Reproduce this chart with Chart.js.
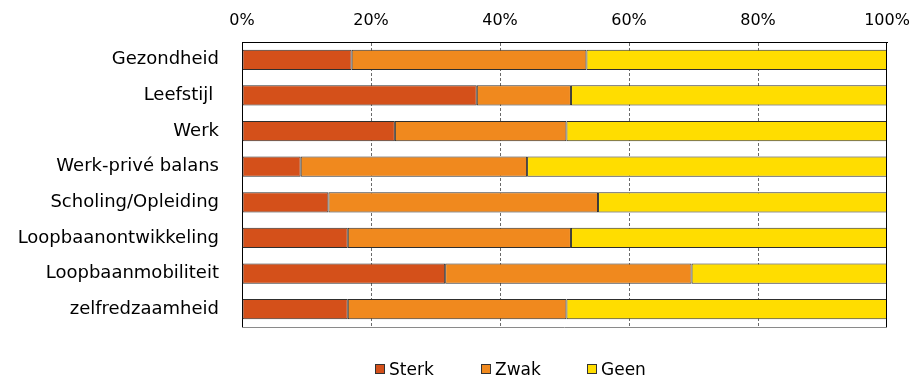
<!DOCTYPE html>
<html lang="nl">
<head>
<meta charset="utf-8">
<title>Aandacht per thema</title>
<script src="https://cdn.jsdelivr.net/npm/chart.js@4"></script>
<style>
  body { margin: 0; background: #fff; }
  #wrap { position: relative; width: 912px; height: 379px; }
  #legend {
    position: absolute; left: 375px; top: 359px; height: 20px;
    display: flex; font: 17px "DejaVu Sans", Verdana, sans-serif; color: #000;
  }
  .legend-item { width: 106px; display: flex; align-items: center; white-space: nowrap; }
  .legend-box { width: 8px; height: 8px; border: 1px solid #333; margin-right: 4px; }
</style>
</head>
<body>
<div id="wrap">
  <canvas id="chart" width="912" height="379"></canvas>
  <div id="legend"></div>
</div>
<script>
// Data
const categories = ['Gezondheid', 'Leefstijl ', 'Werk', 'Werk-privé balans', 'Scholing/Opleiding',
  'Loopbaanontwikkeling', 'Loopbaanmobiliteit', 'zelfredzaamheid'];
const sterk = [17.0, 36.4, 23.7, 9.1, 13.4, 16.4, 31.5, 16.4];
const zwak = [36.4, 14.6, 26.6, 35.1, 41.8, 34.6, 38.2, 33.9];
const geen = [46.6, 49.0, 49.7, 55.8, 44.8, 49.0, 30.3, 49.7];
const xTicks = [0, 20, 40, 60, 80, 100];

const FONT = '"DejaVu Sans", Verdana, sans-serif';

// HTML legend built from the chart's datasets
const htmlLegend = {
  id: 'htmlLegend',
  afterUpdate(chart) {
    const box = document.getElementById('legend');
    box.innerHTML = '';
    chart.data.datasets.forEach(ds => {
      const item = document.createElement('div');
      item.className = 'legend-item';
      item.innerHTML = `<span class="legend-box" style="background:${ds.backgroundColor}"></span><span>${ds.label}</span>`;
      box.appendChild(item);
    });
  }
};

// right and bottom edge of the plot frame
const frame = {
  id: 'frame',
  afterDatasetsDraw(chart) {
    const { ctx, chartArea: a } = chart;
    ctx.save();
    ctx.lineWidth = 1;
    ctx.strokeStyle = '#000';
    ctx.beginPath();
    ctx.moveTo(a.right - 0.5, a.top);
    ctx.lineTo(a.right - 0.5, a.bottom);
    ctx.stroke();
    ctx.strokeStyle = '#8a8a8a';
    ctx.beginPath();
    ctx.moveTo(a.left, a.bottom + 0.5);
    ctx.lineTo(a.right, a.bottom + 0.5);
    ctx.stroke();
    ctx.restore();
  }
};

const barStyle = { borderWidth: 1, borderColor: '#2e2e2e', borderSkipped: false,
  barPercentage: 0.57, categoryPercentage: 1 };

new Chart(document.getElementById('chart'), {
  type: 'bar',
  data: {
    labels: categories,
    datasets: [
      { label: 'Sterk', data: sterk, backgroundColor: '#d4501a', ...barStyle },
      { label: 'Zwak', data: zwak, backgroundColor: '#f0891e', ...barStyle },
      { label: 'Geen', data: geen, backgroundColor: '#ffdd00', ...barStyle }
    ]
  },
  options: {
    indexAxis: 'y',
    responsive: false,
    animation: false,
    layout: { padding: { left: 0, right: 25, top: 0, bottom: 52 } },
    plugins: { legend: { display: false }, tooltip: { enabled: false } },
    scales: {
      x: {
        position: 'top',
        stacked: true,
        min: 0,
        max: 100,
        afterBuildTicks: scale => { scale.ticks = xTicks.map(v => ({ value: v })); },
        afterFit: scale => {
          scale.height = 42;
          // labels may run past the plot edges
          scale.paddingLeft = 0;
          scale.paddingRight = 0;
        },
        ticks: {
          callback: v => v + '%',
          padding: 12,
          color: '#000',
          font: { family: FONT, size: 16 }
        },
        grid: {
          drawTicks: false,
          color: c => (c.tick && (c.tick.value === 0 || c.tick.value === 100)) ? 'rgba(0,0,0,0)' : '#6a6a6a'
        },
        border: { display: true, color: '#000', width: 1, dash: [3, 2] }
      },
      y: {
        stacked: true,
        afterFit: scale => { scale.width = 242; },
        ticks: {
          padding: 23,
          color: '#000',
          font: { family: FONT, size: 18 }
        },
        grid: { display: false, drawTicks: false },
        border: { display: true, color: '#000', width: 1 }
      }
    }
  },
  plugins: [htmlLegend, frame]
});
</script>
</body>
</html>
